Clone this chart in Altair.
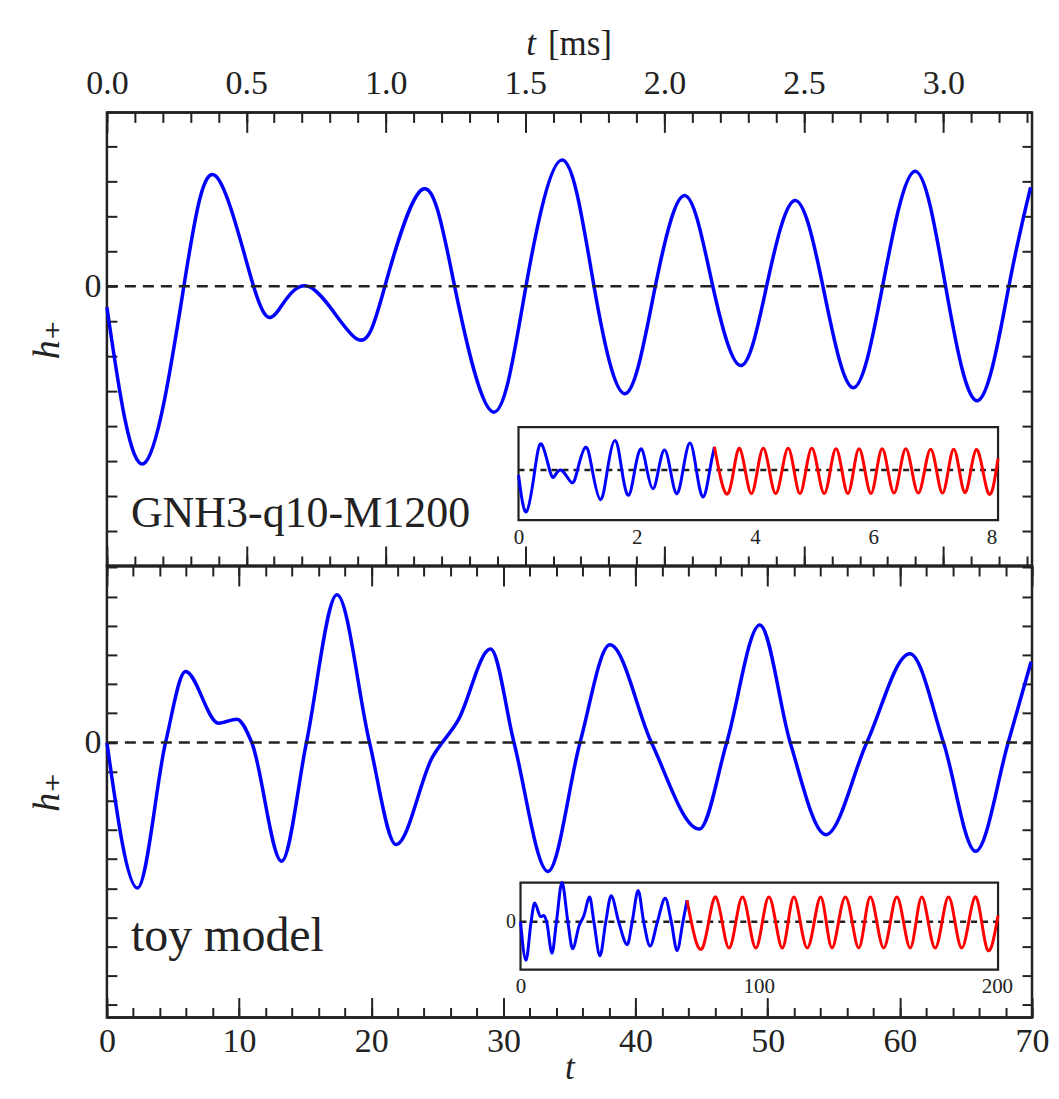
import altair as alt
import pandas as pd

FONT = "Liberation Serif, DejaVu Serif, serif"
INK = "#222222"
BLUE = "#0000ff"
RED = "#ff0000"

# ---------------- data ----------------
# upper panel: GNH3-q10-M1200, time in ms
TOP_T_MS = [0.000, 0.133, 0.276, 0.389, 0.526, 0.610, 0.730, 0.895, 0.997, 1.134,
            1.247, 1.386, 1.503, 1.634, 1.747, 1.860, 1.967, 2.074, 2.173, 2.274,
            2.366, 2.467, 2.568, 2.675, 2.782, 2.898, 3.008, 3.124, 3.235, 3.313]
TOP_H = [-0.60, -5.07, 0.00, 3.16, 0.00, -0.74, -0.03, -1.50, 0.00, 2.78,
         0.00, -3.60, 0.00, 3.61, 0.00, -3.07, 0.00, 2.59, 0.00, -2.27,
         0.00, 2.45, 0.00, -2.90, 0.00, 3.29, 0.00, -3.27, 0.00, 2.83]
# continuation shown in red in the upper inset
TOP_RED_T_MS = [3.313, 3.55, 3.74, 3.94, 4.14, 4.35, 4.56, 4.76, 4.96, 5.17, 5.37,
                5.57, 5.76, 5.96, 6.15, 6.35, 6.55, 6.76, 6.97, 7.17, 7.36, 7.55, 7.74,
                7.94, 8.11]
TOP_RED_H = [2.83, -2.80, 2.65, -2.85, 2.65, -2.85, 2.65, -2.85, 2.65, -2.85, 2.60,
             -2.85, 2.60, -2.85, 2.60, -2.80, 2.60, -2.80, 2.55, -2.80, 2.55, -2.75, 2.50,
             -2.75, 1.40]

# lower panel: toy model, time in code units
BOT_T = [0.00, 2.31, 4.44, 5.95, 8.45, 9.83, 10.96, 13.22, 15.10, 17.41,
         19.87, 21.88, 24.60, 26.60, 29.03, 30.80, 33.37, 35.80, 38.06,
         41.20, 44.83, 46.90, 49.40, 51.70, 54.40, 57.50, 60.76,
         63.30, 65.73, 68.20, 69.93]
BOT_H = [0.00, -4.99, 0.00, 2.43, 0.66, 0.80, 0.00, -4.07, 0.00, 5.06,
         0.00, -3.50, -0.53, 0.78, 3.20, 0.00, -4.42, 0.00, 3.35,
         0.00, -2.97, 0.00, 4.03, 0.00, -3.16, 0.00, 3.04,
         0.00, -3.73, 0.00, 2.77]
BOT_RED_T = [69.93, 76.4, 82.0, 87.6, 93.2, 98.8, 104.3, 109.9, 114.8, 120.4, 126.0,
             130.8, 136.4, 142.0, 146.9, 152.5, 158.0, 163.6, 168.5, 174.1, 179.7, 185.2,
             190.8, 195.7, 200.5]
BOT_RED_H = [2.77, -3.40, 3.20, -3.40, 3.20, -3.40, 3.20, -3.40, 3.20, -3.40, 3.20,
             -3.40, 3.20, -3.40, 3.20, -3.40, 3.20, -3.40, 3.20, -3.40, 3.20, -3.40,
             3.20, -3.40, 0.80]

# tick values
MS_MAJOR = [0.0, 0.5, 1.0, 1.5, 2.0, 2.5, 3.0]
MS_MINOR = [round(0.1 * i, 1) for i in range(0, 34)]
T_MAJOR = [0, 10, 20, 30, 40, 50, 60, 70]
T_MINOR = list(range(0, 71, 2))
TOP_Y_TICKS = list(range(-8, 5))
BOT_Y_TICKS = list(range(-9, 7))
TOP_IN_X_MAJOR = [0, 2, 4, 6, 8]
TOP_IN_X_MINOR = [0.5 * i for i in range(0, 17)]
BOT_IN_X_MAJOR = [0, 100, 200]
BOT_IN_X_MINOR = list(range(0, 201, 20))
IN_Y_TICKS = [-6, -4, -2, 0, 2, 4]

# ---------------- layout ----------------
W = 926
H_TOP = 454
H_BOT = 452
TS_MAJ, TS_MIN, TS_Y = 20, 10, 10
ITS_MAJ, ITS_MIN, ITS_Y = 12, 7, 7
ZERO_EXPR = "datum.value === 0 ? '0' : ''"

top_df = pd.DataFrame({"t": TOP_T_MS, "h": TOP_H})
top_red_df = pd.DataFrame({"t": TOP_RED_T_MS, "h": TOP_RED_H})
bot_df = pd.DataFrame({"t": BOT_T, "h": BOT_H})
bot_red_df = pd.DataFrame({"t": BOT_RED_T, "h": BOT_RED_H})
ONE = pd.DataFrame({"k": [0]})


def axis(orient, values, size, offset, labels=False, fs=34, pad=7, **extra):
    kw = dict(orient=orient, values=values, tickSize=size, offset=offset, domain=False,
              grid=False, ticks=True, labels=labels, labelFontSize=fs, labelPadding=pad,
              labelFlush=False, tickColor=INK, tickWidth=2)
    if "title" not in extra:
        kw["title"] = None
    kw.update(extra)
    return alt.Axis(**kw)


def scale(dom, rng=None):
    if rng is None:
        return alt.Scale(domain=dom, nice=False, zero=False)
    return alt.Scale(domain=dom, range=rng, nice=False, zero=False)


def panel(df, red_df, H, xdom, ydom, x_major, x_minor, x_fmt, y_ticks, top_labels,
          bottom_labels, top_title, bottom_title, ins, label_text, label_y, label_fs,
          curve):
    xs = scale(xdom)
    ys = scale(ydom)
    layers = []
    # main waveform: top major axis + left axis
    if top_title is not None:
        top_major = axis("top", x_major, TS_MAJ, -TS_MAJ, labels=top_labels, format=x_fmt,
                         pad=12, title="t", titleFontStyle="italic", titleX=424,
                         titleY=-78, titleAlign="center", titleBaseline="alphabetic",
                         titleAngle=0)
    else:
        top_major = axis("top", x_major, TS_MAJ, -TS_MAJ)
    left = axis("left", y_ticks, TS_Y, -TS_Y, labels=True, labelExpr=ZERO_EXPR, pad=6,
                title="h₊", titleFontStyle="italic", titleFontSize=38, titleAngle=270,
                titleX=-58, titleY=H / 2, titleAlign="center", titleBaseline="alphabetic")
    layers.append(
        alt.Chart(df).mark_line(color=BLUE, strokeWidth=3.5, interpolate=curve)
        .encode(x=alt.X("t:Q", scale=xs, axis=top_major),
                y=alt.Y("h:Q", scale=ys, axis=left))
    )
    # dashed zero line: top minor axis + right axis
    if top_title is not None:
        top_minor = axis("top", x_minor, TS_MIN, -TS_MIN, title="[ms]", titleX=473,
                         titleY=-68, titleAlign="center", titleBaseline="alphabetic",
                         titleAngle=0)
    else:
        top_minor = axis("top", x_minor, TS_MIN, -TS_MIN)
    layers.append(
        alt.Chart(ONE).mark_rule(color=INK, strokeWidth=2.5, strokeDash=[11, 7])
        .encode(x=alt.XDatum(xdom[0], type="quantitative", scale=xs, axis=top_minor),
                x2=alt.X2Datum(xdom[1]),
                y=alt.YDatum(0, type="quantitative", scale=ys,
                             axis=axis("right", y_ticks, TS_Y, -TS_Y)))
    )
    # frame edges carrying the bottom ticks
    if bottom_labels:
        bottom_major = axis("bottom", x_major, TS_MAJ, -TS_MAJ, labels=True, format=x_fmt,
                            title=bottom_title, titleFontStyle="italic", titleX=W / 2,
                            titleY=81, titleAlign="center", titleBaseline="alphabetic",
                            titleAngle=0)
    else:
        bottom_major = axis("bottom", x_major, TS_MAJ, -TS_MAJ)
    layers.append(
        alt.Chart(ONE).mark_rule(color=INK, strokeWidth=2.5)
        .encode(x=alt.XDatum(xdom[0], type="quantitative", scale=xs, axis=bottom_major),
                x2=alt.X2Datum(xdom[1]),
                y=alt.YDatum(ydom[0], type="quantitative", scale=ys, axis=None))
    )
    layers.append(
        alt.Chart(ONE).mark_rule(color=INK, strokeWidth=2.5)
        .encode(x=alt.XDatum(xdom[0], type="quantitative", scale=xs,
                             axis=axis("bottom", x_minor, TS_MIN, -TS_MIN)),
                x2=alt.X2Datum(xdom[1]),
                y=alt.YDatum(ydom[1], type="quantitative", scale=ys, axis=None))
    )
    # ---- inset ----
    L, R, T, B = ins["L"], ins["R"], ins["T"], ins["B"]
    ixs = scale(ins["xdom"], [L, R])
    iys = scale(ins["ydom"], [B, T])
    in_left = axis("left", IN_Y_TICKS, ITS_Y, -(L + ITS_Y), labels=ins["ylabel"],
                   labelExpr=ZERO_EXPR, fs=20, pad=5)
    layers.append(
        alt.Chart(ONE).mark_rect(fill="white", stroke=INK, strokeWidth=2.2)
        .encode(x=alt.XDatum(ins["xdom"][0], type="quantitative", scale=ixs,
                             axis=axis("bottom", ins["xmajor"], ITS_MAJ, B - ITS_MAJ - H,
                                       labels=True, format="d", fs=21, pad=6)),
                x2=alt.X2Datum(ins["xdom"][1]),
                y=alt.YDatum(ins["ydom"][0], type="quantitative", scale=iys, axis=in_left),
                y2=alt.Y2Datum(ins["ydom"][1]))
    )
    layers.append(
        alt.Chart(ONE).mark_rule(color=INK, strokeWidth=2.5, strokeDash=[6, 5])
        .encode(x=alt.XDatum(ins["xdom"][0], type="quantitative", scale=ixs,
                             axis=axis("top", ins["xminor"], ITS_MIN, -(T + ITS_MIN))),
                x2=alt.X2Datum(ins["xdom"][1]),
                y=alt.YDatum(0, type="quantitative", scale=iys, axis=None))
    )
    layers.append(
        alt.Chart(df).mark_line(color=BLUE, strokeWidth=3, interpolate=curve)
        .encode(x=alt.X("t:Q", scale=ixs,
                        axis=axis("bottom", ins["xminor"], ITS_MIN, B - ITS_MIN - H)),
                y=alt.Y("h:Q", scale=iys,
                        axis=axis("right", IN_Y_TICKS, ITS_Y, R - ITS_Y - W)))
    )
    layers.append(
        alt.Chart(red_df).mark_line(color=RED, strokeWidth=3, interpolate="natural")
        .encode(x=alt.X("t:Q", scale=ixs,
                        axis=axis("top", ins["xmajor"], ITS_MAJ, -(T + ITS_MAJ))),
                y=alt.Y("h:Q", scale=iys, axis=None))
    )
    # panel label
    layers.append(
        alt.Chart(ONE).mark_text(text=label_text, font=FONT, fontSize=label_fs, color=INK,
                                 align="left", baseline="alphabetic")
        .encode(x=alt.value(24), y=alt.value(label_y))
    )
    return (alt.layer(*layers)
            .resolve_scale(x="independent", y="independent")
            .resolve_axis(x="independent", y="independent")
            .properties(width=W, height=H))


top = panel(top_df, top_red_df, H_TOP, [0, 3.318], [-8, 4.97], MS_MAJOR, MS_MINOR, ".1f",
            TOP_Y_TICKS, True, False, "t [ms]", None,
            dict(L=412, R=892, T=315, B=408, xdom=[0, 8.11], ydom=[-6.08, 5.23],
                 xmajor=TOP_IN_X_MAJOR, xminor=TOP_IN_X_MINOR, ylabel=False),
            "GNH3-q10-M1200", 414.7, 44, "natural")

bottom = panel(bot_df, bot_red_df, H_BOT, [0, 70], [-9.43, 6.05], T_MAJOR, T_MINOR, "d",
               BOT_Y_TICKS, False, True, None, "t",
               dict(L=414, R=892, T=317, B=404, xdom=[0, 200.5], ydom=[-6.2, 5.05],
                    xmajor=BOT_IN_X_MAJOR, xminor=BOT_IN_X_MINOR, ylabel=True),
               "toy model", 385.7, 48, "monotone")

chart = (alt.vconcat(top, bottom, spacing=0, bounds="flush")
         .properties(padding={"left": 19, "top": 16, "right": 0, "bottom": 0},
                     background="white")
         .configure_view(stroke=INK, strokeWidth=2.5)
         .configure_axis(labelFont=FONT, titleFont=FONT, labelColor=INK, titleColor=INK,
                         titleFontSize=35, titleFontWeight="normal"))

chart.save("out.html", embed_options={"renderer": "svg", "actions": False})
